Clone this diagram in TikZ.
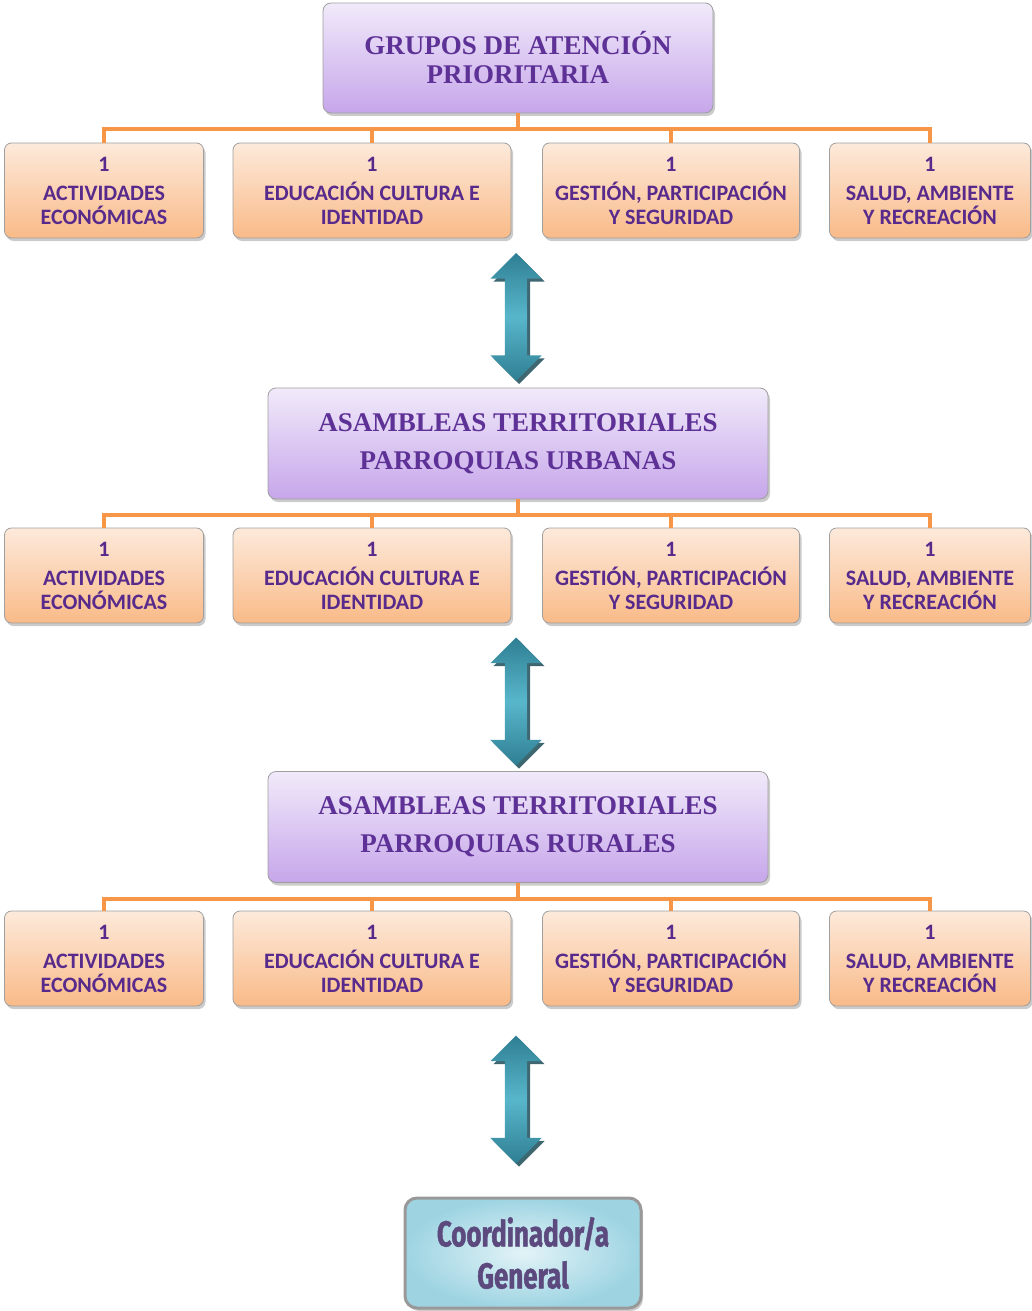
\documentclass[tikz,border=0pt]{standalone}
\usepackage{fontspec}
\setmainfont{Liberation Serif}
\newfontfamily\areafont{Carlito}
\newfontfamily\coordfont[FakeStretch=0.72,FakeBold=1.2]{Fira Sans}
\usetikzlibrary{shapes.arrows,shadows}

\definecolor{lavtop}{HTML}{F1EAFA}
\definecolor{lavbot}{HTML}{C6A6EA}
\definecolor{headtxt}{HTML}{5E3196}
\definecolor{orgtop}{HTML}{FDEADB}
\definecolor{orgbot}{HTML}{F9BA88}
\definecolor{areatxt}{HTML}{572A8C}
\definecolor{connline}{HTML}{F79646}
\definecolor{tealdark}{HTML}{2F7F93}
\definecolor{teallight}{HTML}{58B6CB}
\definecolor{cyanedge}{HTML}{9ED4E2}
\definecolor{cyanmid}{HTML}{E2F3F7}
\definecolor{coordtxt}{HTML}{5C4A7E}

\begin{document}
\begin{tikzpicture}[x=1pt, y=-1pt,
    boxshadow/.style={drop shadow={shadow xshift=2pt, shadow yshift=-3pt, fill=black!45, opacity=.45}},
    head/.style={draw=gray!75, line width=.8pt, rounded corners=8pt, top color=lavtop, bottom color=lavbot,
      minimum width=500pt, minimum height=111pt, align=center, text=headtxt, boxshadow,
      font=\fontsize{27}{38}\selectfont\bfseries},
    area/.style={draw=gray!75, line width=.8pt, rounded corners=7pt, top color=orgtop, bottom color=orgbot,
      minimum height=95pt, align=center, text=areatxt, boxshadow,
      font=\areafont\fontsize{22}{24}\selectfont\bfseries},
    conn/.style={draw=connline, line width=4pt},
    dblarrow/.style={double arrow, rotate=90, minimum height=128pt, inner xsep=0pt, inner ysep=11pt,
      double arrow head extend=14.5pt, top color=tealdark, bottom color=tealdark, middle color=teallight,
      drop shadow={shadow xshift=3pt, shadow yshift=-3pt, fill=tealdark!60!black, opacity=.85}},
    coord/.style={draw=gray!80, line width=3pt, rounded corners=12pt, minimum width=236pt, minimum height=110pt,
      inner color=cyanmid, outer color=cyanedge, align=center, text=coordtxt, boxshadow,
      font=\coordfont\fontsize{36}{42}\selectfont\bfseries}]
  \useasboundingbox (0,0) rectangle (1032,1311);

  % level heads
  \node[head, minimum width=390pt, minimum height=110pt, font=\fontsize{27}{29}\selectfont\bfseries]
    (g1) at (518,58) {GRUPOS DE ATENCIÓN\\PRIORITARIA};
  \node[head] (g2) at (518,443.5) {ASAMBLEAS TERRITORIALES\\PARROQUIAS URBANAS};
  \node[head] (g3) at (518,827) {ASAMBLEAS TERRITORIALES\\PARROQUIAS RURALES};

  % four areas under each head
  \foreach \r/\p/\y in {a/g1/190.5, b/g2/575.5, c/g3/958.5} {
    \foreach \i/\x/\w/\t in {1/104/199/{ACTIVIDADES\\ECONÓMICAS},
        2/372/278/{EDUCACIÓN CULTURA E\\IDENTIDAD},
        3/671/257/{GESTIÓN, PARTICIPACIÓN\\Y SEGURIDAD},
        4/930/201/{SALUD, AMBIENTE\\Y RECREACIÓN}} {
      \node[area, minimum width=\w pt] (\r\i) at (\x,\y) {1\\[5pt]\t};
      \draw[conn] (\p.south) -- ++(0,16) -| (\r\i.north);
    }
  }

  \node[dblarrow] (ar1) at (516,317) {};
  \node[dblarrow] (ar2) at (516,701.5) {};
  \node[dblarrow] (ar3) at (516,1099.5) {};

  \node[coord] (cg) at (523,1253) {Coordinador/a\\General};
\end{tikzpicture}
\end{document}
